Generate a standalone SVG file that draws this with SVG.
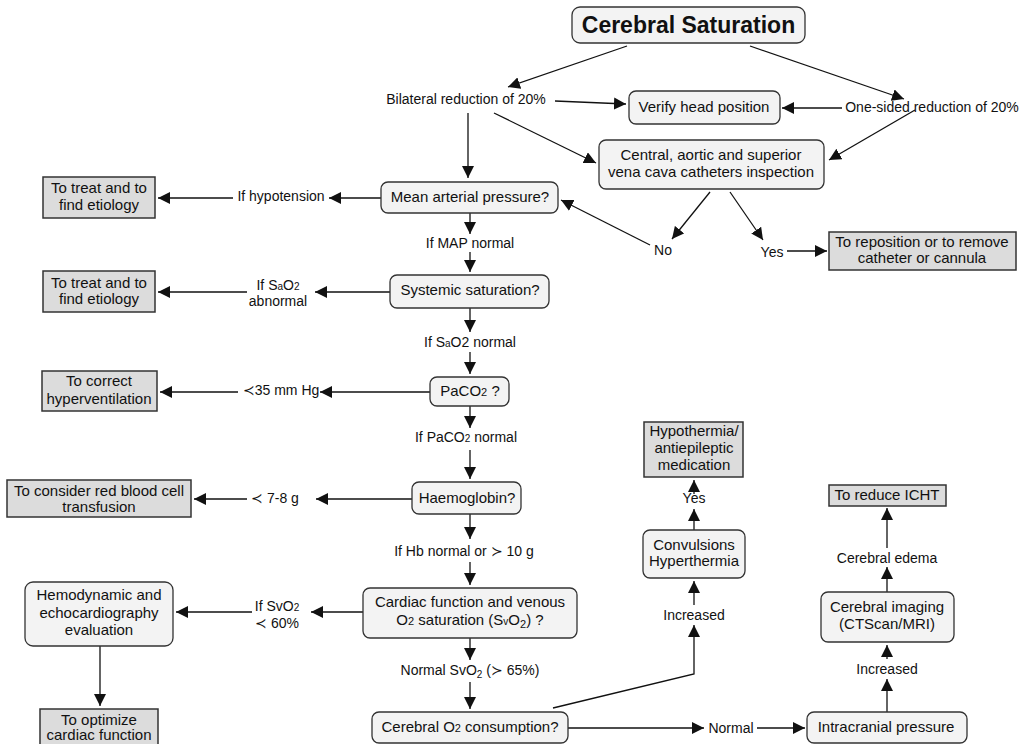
<svg xmlns="http://www.w3.org/2000/svg" width="1019" height="744" viewBox="0 0 1019 744">
<defs>
<marker id="ah" markerUnits="userSpaceOnUse" markerWidth="13" markerHeight="12" refX="12" refY="6" orient="auto"><path d="M0,0 L12,6 L0,12 z" fill="#111"/></marker>
<style>
text{font-family:"Liberation Sans",Arial,sans-serif;fill:#111;text-anchor:middle}
.b{font-size:15px}
.l{font-size:14px}
.n{fill:#f3f3f3;stroke:#333;stroke-width:1.3}
.r{fill:#dcdcdc;stroke:#333;stroke-width:1.5}
.c line,.c path{stroke:#111;stroke-width:1.3;fill:none;marker-end:url(#ah)}
.s{font-size:10px}
</style>
</defs>
<rect width="1019" height="744" fill="#fff"/>
<g class="c" id="connectors">
<line x1="627" y1="46" x2="508" y2="87"/>
<line x1="750" y1="46" x2="904" y2="99"/>
<line x1="555" y1="101" x2="626" y2="104"/>
<line x1="842" y1="108" x2="782" y2="108"/>
<line x1="494" y1="113" x2="596" y2="163"/>
<line x1="915" y1="110" x2="829" y2="160"/>
<line x1="468" y1="113" x2="468" y2="178"/>
<line x1="381" y1="198" x2="329" y2="198"/>
<line x1="233" y1="198" x2="158" y2="198"/>
<line x1="470" y1="213" x2="470" y2="234"/>
<line x1="470" y1="252" x2="470" y2="272"/>
<line x1="390" y1="292" x2="315" y2="292"/>
<line x1="247" y1="292" x2="158" y2="292"/>
<line x1="470" y1="308" x2="470" y2="332"/>
<line x1="470" y1="352" x2="470" y2="374"/>
<line x1="430" y1="392" x2="320" y2="392"/>
<line x1="238" y1="392" x2="160" y2="392"/>
<line x1="470" y1="406" x2="470" y2="428"/>
<line x1="470" y1="450" x2="470" y2="479"/>
<line x1="412" y1="499" x2="316" y2="499"/>
<line x1="247" y1="499" x2="194" y2="499"/>
<line x1="470" y1="514" x2="470" y2="539"/>
<line x1="470" y1="562" x2="470" y2="585"/>
<line x1="363" y1="612" x2="311" y2="612"/>
<line x1="252" y1="612" x2="176" y2="612"/>
<line x1="100" y1="646" x2="100" y2="706"/>
<line x1="470" y1="638" x2="470" y2="660"/>
<line x1="470" y1="682" x2="470" y2="709"/>
<line x1="710" y1="192" x2="672" y2="239"/>
<line x1="650" y1="245" x2="561" y2="200"/>
<line x1="730" y1="192" x2="763" y2="240"/>
<line x1="787" y1="251" x2="827" y2="251"/>
<path d="M553,708 L694,674 L694,625"/>
<line x1="694" y1="605" x2="694" y2="581"/>
<line x1="694" y1="530" x2="694" y2="509"/>
<line x1="694" y1="494" x2="694" y2="480"/>
<line x1="568" y1="728" x2="704" y2="728"/>
<line x1="757" y1="728" x2="805" y2="728"/>
<line x1="887" y1="712" x2="887" y2="679"/>
<line x1="887" y1="659" x2="887" y2="645"/>
<line x1="887" y1="592" x2="887" y2="567"/>
<line x1="887" y1="548" x2="887" y2="508"/>
</g>
<g id="labels" class="l">
<text x="466" y="104">Bilateral reduction of 20%</text>
<text x="932" y="112">One-sided reduction of 20%</text>
<text x="281" y="201">If hypotension</text>
<text x="470" y="248">If MAP normal</text>
<text x="663" y="255">No</text>
<text x="772" y="257">Yes</text>
<text x="278" y="290">If S<tspan class="s">a</tspan>O<tspan class="s">2</tspan></text>
<text x="278" y="306">abnormal</text>
<text x="470" y="347">If S<tspan class="s">a</tspan>O2 normal</text>
<text x="281" y="395">≺35 mm Hg</text>
<text x="466" y="442">If PaCO<tspan class="s">2</tspan> normal</text>
<text x="275" y="503">≺ 7-8 g</text>
<text x="464" y="556">If Hb normal or ≻ 10 g</text>
<text x="277" y="611">If SvO<tspan class="s">2</tspan></text>
<text x="277" y="628">≺ 60%</text>
<text x="470" y="675">Normal SvO<tspan class="s" dy="3">2</tspan><tspan dy="-3"> (≻ 65%)</tspan></text>
<text x="694" y="620">Increased</text>
<text x="694" y="503">Yes</text>
<text x="731" y="733">Normal</text>
<text x="887" y="563">Cerebral edema</text>
<text x="887" y="674">Increased</text>
</g>
<g id="title"><rect class="n" x="572" y="7" width="233" height="36" rx="8"/><text x="688.5" y="33" style="font-size:23px;font-weight:bold">Cerebral Saturation</text></g>
<g id="verify"><rect class="n" x="629" y="91" width="151" height="33" rx="7"/><text class="b" x="704" y="112">Verify head position</text></g>
<g id="central"><rect class="n" x="599" y="140" width="225" height="49" rx="7"/><text class="b" x="711" y="160">Central, aortic and superior</text><text class="b" x="711" y="177">vena cava catheters inspection</text></g>
<g id="map"><rect class="n" x="381" y="182" width="177" height="31" rx="7"/><text class="b" x="470" y="202">Mean arterial pressure?</text></g>
<g id="sys"><rect class="n" x="390" y="275" width="159" height="33" rx="7"/><text class="b" x="470" y="295">Systemic saturation?</text></g>
<g id="paco2"><rect class="n" x="430" y="377" width="79" height="29" rx="7"/><text class="b" x="470" y="396">PaCO<tspan class="s" style="font-size:11px">2</tspan> ?</text></g>
<g id="hb"><rect class="n" x="412" y="482" width="109" height="32" rx="7"/><text class="b" x="467" y="503">Haemoglobin?</text></g>
<g id="cardiac"><rect class="n" x="363" y="588" width="214" height="50" rx="7"/><text class="b" x="470" y="607">Cardiac function and venous</text><text class="b" x="470" y="625">O<tspan style="font-size:11px">2</tspan> saturation (S<tspan style="font-size:10px">v</tspan>O<tspan style="font-size:11px" dy="3">2</tspan><tspan dy="-3">) ?</tspan></text></g>
<g id="cerebralO2"><rect class="n" x="372" y="712" width="196" height="31" rx="7"/><text class="b" x="470" y="732">Cerebral O<tspan style="font-size:11px">2</tspan> consumption?</text></g>
<g id="convulsions"><rect class="n" x="643" y="530" width="102" height="48" rx="7"/><text class="b" x="694" y="550">Convulsions</text><text class="b" x="694" y="566">Hyperthermia</text></g>
<g id="hypothermia"><rect class="r" x="644" y="422" width="99" height="55"/><text class="b" x="694" y="436">Hypothermia/</text><text class="b" x="694" y="453">antiepileptic</text><text class="b" x="694" y="470">medication</text></g>
<g id="icht"><rect class="r" x="829" y="485" width="117" height="21"/><text class="b" x="887" y="500">To reduce ICHT</text></g>
<g id="imaging"><rect class="n" x="821" y="592" width="133" height="50" rx="7"/><text class="b" x="887" y="612">Cerebral imaging</text><text class="b" x="887" y="629">(CTScan/MRI)</text></g>
<g id="icp"><rect class="n" x="807" y="712" width="160" height="31" rx="7"/><text class="b" x="886" y="732">Intracranial pressure</text></g>
<g id="box1"><rect class="r" x="43" y="177" width="112" height="41"/><text class="b" x="99" y="193">To treat and to</text><text class="b" x="99" y="210">find etiology</text></g>
<g id="box2"><rect class="r" x="43" y="271" width="112" height="41"/><text class="b" x="99" y="288">To treat and to</text><text class="b" x="99" y="304">find etiology</text></g>
<g id="box3"><rect class="r" x="42" y="371" width="115" height="40"/><text class="b" x="99" y="386">To correct</text><text class="b" x="99" y="404">hyperventilation</text></g>
<g id="box4"><rect class="r" x="7" y="480" width="184" height="37"/><text class="b" x="99" y="496">To consider red blood cell</text><text class="b" x="99" y="512">transfusion</text></g>
<g id="hemo"><rect class="n" x="25" y="582" width="148" height="64" rx="8"/><text class="b" x="99" y="600">Hemodynamic and</text><text class="b" x="99" y="618">echocardiography</text><text class="b" x="99" y="635">evaluation</text></g>
<g id="optimize"><rect class="r" x="40" y="709" width="118" height="45"/><text class="b" x="99" y="725">To optimize</text><text class="b" x="99" y="740">cardiac function</text></g>
<g id="repos"><rect class="r" x="829" y="232" width="187" height="38"/><text class="b" x="922" y="247">To reposition or to remove</text><text class="b" x="922" y="263">catheter or cannula</text></g>
</svg>
